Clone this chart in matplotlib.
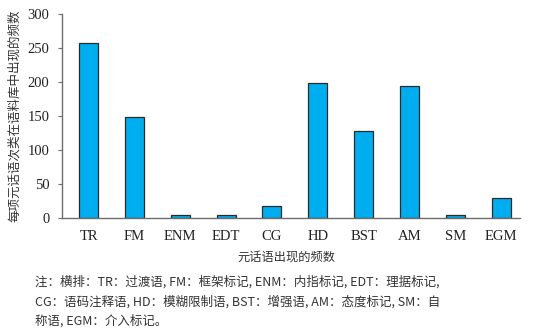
import matplotlib
matplotlib.use("Agg")
import matplotlib.pyplot as plt

categories = ["TR", "FM", "ENM", "EDT", "CG", "HD", "BST", "AM", "SM", "EGM"]
counts = [257, 148, 4, 4, 18, 198, 128, 194, 5, 29]
y_ticks = [0, 50, 100, 150, 200, 250, 300]

ylabel = "每项元话语次类在语料库中出现的频数"
xlabel = "元话语出现的频数"
note_lines = [
    "注：横排：TR：过渡语, FM：框架标记, ENM：内指标记, EDT：理据标记,",
    "CG：语码注释语, HD：模糊限制语, BST：增强语, AM：态度标记, SM：自",
    "称语, EGM：介入标记。",
]

latin = ["Liberation Serif", "Noto Sans CJK SC"]
cjk = ["Noto Sans CJK SC", "Liberation Serif"]
axis_grey = "#6d6d6d"

fig = plt.figure(figsize=(5.33, 3.32), dpi=100)
ax = fig.add_axes([0.1163, 0.3434, 0.8593, 0.6144])

x = list(range(len(categories)))
ax.bar(x, counts, width=0.415, color="#00aeef", edgecolor="#2a2a2a", linewidth=0.9)

ax.set_xlim(-0.58, 9.41)
ax.set_ylim(0, 300)
ax.set_yticks(y_ticks)
ax.set_yticklabels([str(v) for v in y_ticks], fontsize=10.5)
ax.set_xticks(x)
ax.set_xticklabels(categories, fontsize=10.5)
for lbl in ax.get_xticklabels() + ax.get_yticklabels():
    lbl.set_family(latin)
    lbl.set_color("#222222")
ax.tick_params(axis="x", length=0, pad=9)
ax.tick_params(axis="y", length=3, width=0.8, color=axis_grey, direction="out", pad=6)

for side in ["top", "right"]:
    ax.spines[side].set_visible(False)
for side in ["left", "bottom"]:
    ax.spines[side].set_color(axis_grey)
    ax.spines[side].set_linewidth(1.0)

fig.text(0.028, 0.65, ylabel, rotation=90, ha="center", va="center",
         family=cjk, fontsize=9, color="#333333")
fig.text(0.538, 0.225, xlabel, ha="center", va="center",
         family=cjk, fontsize=8.8, color="#333333")

for i, line in enumerate(note_lines):
    fig.text(0.066, 0.152 - i * 0.06, line, ha="left", va="center",
             family=cjk, fontsize=9, color="#333333")

fig.savefig("out.png", dpi=100)
